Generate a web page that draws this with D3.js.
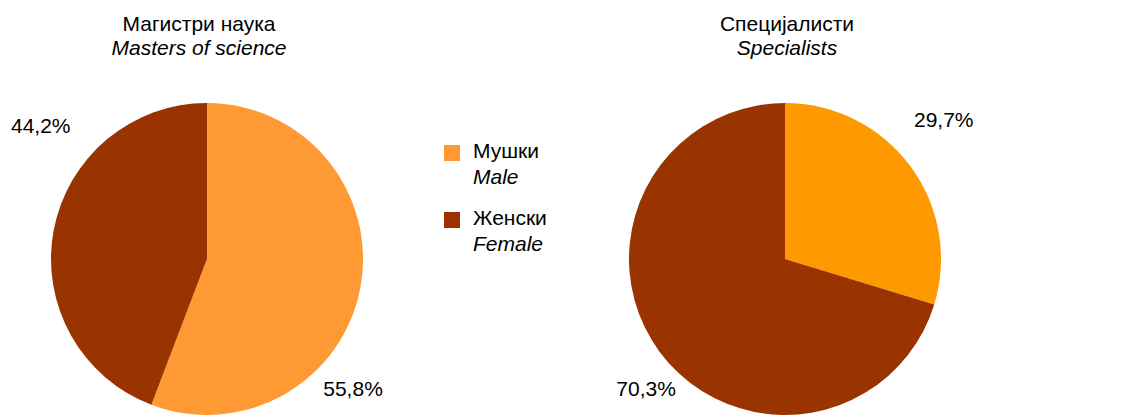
<!DOCTYPE html>
<html>
<head>
<meta charset="utf-8">
<script src="https://cdn.jsdelivr.net/npm/d3@7"></script>
<style>
  body { margin: 0; background: #fff; }
  text { font-family: "Liberation Sans", Arial, sans-serif; fill: #000; }
</style>
</head>
<body>
<div id="chart"></div>
<script>
// categories and values (percent)
const categories = ["Мушки", "Женски"];
const categoriesEn = ["Male", "Female"];
const mastersValues = [55.8, 44.2];
const specialistsValues = [29.7, 70.3];
const mastersLabels = ["55,8%", "44,2%"];
const specialistsLabels = ["29,7%", "70,3%"];

const width = 1144, height = 417;
const fontSize = 21;

const svg = d3.select("#chart")
  .append("svg")
  .attr("width", width)
  .attr("height", height);

const radius = 156;

// label placement: angle (deg, clockwise from top) and distance from centre
const charts = [
  { title: "Магистри наука", sub: "Masters of science", cx: 207, cy: 259, titleX: 199,
    values: mastersValues, labels: mastersLabels,
    colors: ["#FF9933", "#993300"],
    labelPos: [[131.5, 195], [308.7, 213]] },
  { title: "Специјалисти", sub: "Specialists", cx: 785, cy: 259, titleX: 787,
    values: specialistsValues, labels: specialistsLabels,
    colors: ["#FF9900", "#993300"],
    labelPos: [[48.8, 211], [227, 190]] }
];

const pie = d3.pie().sort(null).value(d => d);
const arc = d3.arc().innerRadius(0).outerRadius(radius);

charts.forEach(function(c) {
  const g = svg.append("g")
    .attr("transform", "translate(" + c.cx + "," + c.cy + ")");

  g.selectAll("path")
    .data(pie(c.values))
    .enter()
    .append("path")
      .attr("d", arc)
      .attr("fill", (d, i) => c.colors[i]);

  g.selectAll("text.lbl")
    .data(c.labels)
    .enter()
    .append("text")
      .attr("class", "lbl")
      .attr("text-anchor", "middle")
      .attr("dy", "0.35em")
      .attr("font-size", fontSize)
      .attr("x", (d, i) => c.labelPos[i][1] * Math.sin(c.labelPos[i][0] * Math.PI / 180))
      .attr("y", (d, i) => -c.labelPos[i][1] * Math.cos(c.labelPos[i][0] * Math.PI / 180))
      .text(d => d);

  // title
  svg.append("text")
    .attr("x", c.titleX)
    .attr("y", 31)
    .attr("text-anchor", "middle")
    .attr("font-size", fontSize)
    .text(c.title);
  svg.append("text")
    .attr("x", c.titleX)
    .attr("y", 55)
    .attr("text-anchor", "middle")
    .attr("font-size", fontSize)
    .attr("font-style", "italic")
    .text(c.sub);
});

// legend
const legendColors = ["#FF9933", "#993300"];
const legend = svg.append("g").attr("transform", "translate(444,145)");
categories.forEach(function(cat, i) {
  const row = legend.append("g").attr("transform", "translate(0," + (i * 67) + ")");
  row.append("rect")
    .attr("width", 16).attr("height", 16)
    .attr("fill", legendColors[i]);
  row.append("text")
    .attr("x", 29).attr("y", 13)
    .attr("font-size", fontSize)
    .text(cat);
  row.append("text")
    .attr("x", 29).attr("y", 39)
    .attr("font-size", fontSize)
    .attr("font-style", "italic")
    .text(categoriesEn[i]);
});
</script>
</body>
</html>
